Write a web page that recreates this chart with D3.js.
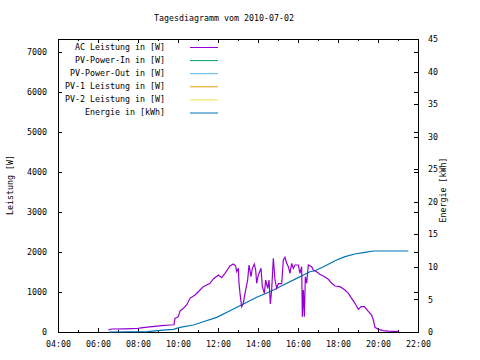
<!DOCTYPE html>
<html>
<head>
<meta charset="utf-8">
<script src="https://cdn.jsdelivr.net/npm/d3@7"></script>
<style>
  html, body { margin: 0; padding: 0; background: #fff; }
  svg { display: block; }
  text { font-family: "DejaVu Sans Mono", monospace; font-size: 8.3px; fill: #000; }
</style>
</head>
<body>
<svg id="chart" width="480" height="360"></svg>
<script>
const title = "Tagesdiagramm vom 2010-07-02";
const yLabel = "Leistung [W]";
const y2Label = "Energie [kWh]";

const seriesNames = ["AC Leistung in [W]", "PV-Power-In in [W]", "PV-Power-Out in [W]",
                     "PV-1 Leistung in [W]", "PV-2 Leistung in [W]", "Energie in [kWh]"];
const seriesColors = ["#9400D3", "#009E73", "#56B4E9", "#E69F00", "#F0E442", "#0072B2"];

const xTickLabels = ["04:00","06:00","08:00","10:00","12:00","14:00","16:00","18:00","20:00","22:00"];
const xMinorTicks = ["05:00","07:00","09:00","11:00","13:00","15:00","17:00","19:00","21:00"];
const yTicks = [0,1000,2000,3000,4000,5000,6000,7000];
const y2Ticks = [0,5,10,15,20,25,30,35,40,45];

const acTimes = ["06:31","06:41","07:21","08:00","08:15","08:36","09:11","09:36","09:48","09:51",
  "10:01","10:06","10:16","10:26","10:36","10:51","11:06","11:16","11:36","11:46",
  "12:01","12:11","12:21","12:36","12:46","12:53","12:56","13:01","13:03","13:06",
  "13:11","13:16","13:21","13:29","13:33","13:39","13:43","13:49","13:53","13:56",
  "14:01","14:09","14:13","14:19","14:23","14:29","14:33","14:37","14:41","14:46",
  "14:51","14:56","15:01","15:11","15:16","15:21","15:26","15:31","15:36","15:41",
  "15:46","15:51","16:01","16:06","16:11","16:13","16:16","16:19","16:22","16:26",
  "16:31","16:41","16:46","16:56","17:04","17:16","17:31","17:41","17:51","18:06",
  "18:21","18:31","18:41","18:51","19:01","19:09","19:19","19:29","19:41","19:46",
  "19:51","20:01","20:16","20:31","21:01"];
const acPower = [50,75,80,90,110,130,160,175,180,340,
  383,525,592,675,842,925,1050,1133,1217,1325,
  1425,1358,1467,1650,1700,1650,1508,1592,1217,967,
  633,717,967,1300,1675,1383,1592,1700,1550,1217,
  1425,1592,1133,967,1300,1092,1300,700,1050,1842,
  1300,1092,1208,1208,1800,1867,1717,1633,1467,1717,
  1592,1675,1675,1467,1633,383,1050,383,1383,1217,
  1675,1633,1550,1508,1450,1400,1317,1217,1150,1133,
  1050,967,842,717,567,633,633,533,425,300,
  117,67,33,20,10];

const energyTimes = ["06:34","08:28","09:06","09:46","10:06","10:46","11:16","11:56","12:36","13:16",
  "13:56","14:36","15:16","15:56","16:36","16:51","17:21","17:51","18:21","18:51",
  "19:21","19:46","21:31"];
const energy = [0,0.05,0.25,0.4,0.7,1.07,1.58,2.25,3.27,4.3,
  5.33,6.19,7.22,8.24,9.26,9.41,10.14,10.95,11.57,11.98,
  12.24,12.44,12.44];

const toH = s => { const [h, m] = s.split(":").map(Number); return h + m / 60; };

const L = 58, R = 418, T = 39, B = 332;
const svg = d3.select("#chart");

const x = d3.scaleLinear().domain([4, 22]).range([L, R]);
const y = d3.scaleLinear().domain([0, 7325]).range([B, T]);
const y2 = d3.scaleLinear().domain([0, 45]).range([B, T]);

const fmtX = h => xTickLabels[xTickLabels.map(toH).indexOf(h)];

function styleAxis(g) {
  g.select(".domain").remove();
  g.selectAll("line").attr("stroke", "#000").attr("shape-rendering", "crispEdges");
  g.selectAll("text").attr("font-family", "DejaVu Sans Mono").attr("font-size", "8.3px").attr("fill", "#000");
}

svg.append("g").attr("transform", `translate(0,${B})`)
  .call(d3.axisBottom(x).tickValues(xTickLabels.map(toH)).tickFormat(fmtX).tickSize(-4).tickPadding(9))
  .call(styleAxis);
svg.append("g").attr("transform", `translate(0,${B})`)
  .call(d3.axisBottom(x).tickValues(xMinorTicks.map(toH)).tickFormat("").tickSize(-2))
  .call(styleAxis);
svg.append("g").attr("transform", `translate(0,${T})`)
  .call(d3.axisTop(x).tickValues(xTickLabels.map(toH)).tickFormat("").tickSize(-4))
  .call(styleAxis);
svg.append("g").attr("transform", `translate(0,${T})`)
  .call(d3.axisTop(x).tickValues(xMinorTicks.map(toH)).tickFormat("").tickSize(-2))
  .call(styleAxis);

svg.append("g").attr("transform", `translate(${L},0)`)
  .call(d3.axisLeft(y).tickValues(yTicks).tickFormat(d3.format("d")).tickSize(-4).tickPadding(11))
  .call(styleAxis);
svg.append("g").attr("transform", `translate(${R},0)`)
  .call(d3.axisRight(y).tickValues(yTicks).tickFormat("").tickSize(-4))
  .call(styleAxis);
svg.append("g").attr("transform", `translate(${R},0)`)
  .call(d3.axisRight(y2).tickValues(y2Ticks).tickFormat(d3.format("d")).tickSize(-4).tickPadding(10))
  .call(styleAxis);

svg.append("rect").attr("x", L + 0.5).attr("y", T + 0.5)
  .attr("width", R - L).attr("height", B - T)
  .attr("fill", "none").attr("stroke", "#000").attr("stroke-width", 1)
  .attr("shape-rendering", "crispEdges");

const acData = acTimes.map((t, i) => ({ t: toH(t), v: acPower[i] }));
const enData = energyTimes.map((t, i) => ({ t: toH(t), v: energy[i] }));

svg.append("path").datum(enData)
  .attr("fill", "none").attr("stroke", seriesColors[5]).attr("stroke-width", 1.2)
  .attr("d", d3.line().x(d => x(d.t)).y(d => y2(d.v)));

svg.append("path").datum(acData)
  .attr("fill", "none").attr("stroke", seriesColors[0]).attr("stroke-width", 1.2)
  .attr("d", d3.line().x(d => x(d.t)).y(d => y(d.v)));

const lg = svg.append("g");
seriesNames.forEach((n, i) => {
  const yy = 47 + i * 13.1;
  lg.append("text").attr("x", 165).attr("y", yy).attr("dy", "0.35em")
    .attr("text-anchor", "end").text(n);
  lg.append("line").attr("x1", 190).attr("x2", 218).attr("y1", yy + 0.5).attr("y2", yy + 0.5)
    .attr("stroke", seriesColors[i]).attr("stroke-width", 1);
});

svg.append("text").attr("x", 224).attr("y", 21).attr("text-anchor", "middle").text(title);
svg.append("text").attr("transform", "translate(13,185) rotate(-90)")
  .attr("text-anchor", "middle").text(yLabel);
svg.append("text").attr("transform", "translate(446,190) rotate(-90)")
  .attr("text-anchor", "middle").text(y2Label);
</script>
</body>
</html>
